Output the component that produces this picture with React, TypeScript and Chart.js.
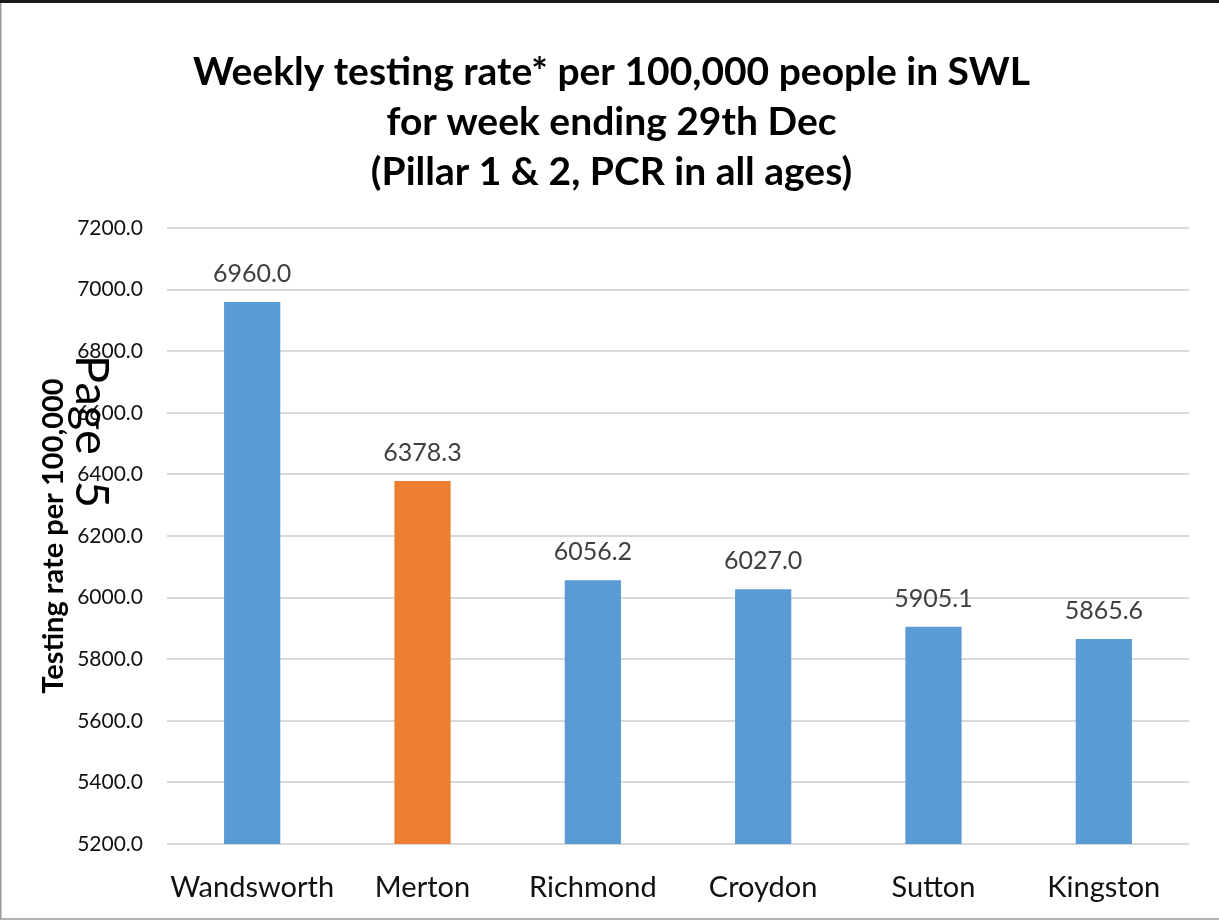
import React, { useEffect, useRef } from "react";
import { Chart, registerables } from "chart.js";

Chart.register(...registerables);

const categories = ["Wandsworth", "Merton", "Richmond", "Croydon", "Sutton", "Kingston"];
const rates = [6960.0, 6378.3, 6056.2, 6027.0, 5905.1, 5865.6];
const barColors = ["#5B9BD5", "#ED7D31", "#5B9BD5", "#5B9BD5", "#5B9BD5", "#5B9BD5"];
const titleLines = [
  "Weekly testing rate* per 100,000 people in SWL",
  "for week ending 29th Dec",
  "(Pillar 1 & 2, PCR in all ages)",
];
const yAxisTitle = "Testing rate per 100,000";
const overlayText = "Page 5";
const yMin = 5200;
const yMax = 7200;
const yStep = 200;

const FONT = "Lato, 'Noto Sans', sans-serif";

const decorPlugin = {
  id: "decor",
  afterDraw(chart: any) {
    const ctx = chart.ctx;
    const w = chart.width;
    const h = chart.height;
    ctx.save();
    // frame
    ctx.strokeStyle = "#9a9a9a";
    ctx.lineWidth = 1.5;
    ctx.beginPath();
    ctx.moveTo(0.75, 0);
    ctx.lineTo(0.75, h - 2);
    ctx.lineTo(w, h - 2);
    ctx.stroke();
    ctx.fillStyle = "#1a1a1a";
    ctx.fillRect(0, 0, w, 3);
    // title
    ctx.fillStyle = "#000";
    ctx.font = `bold 39px ${FONT}`;
    ctx.textAlign = "center";
    ctx.textBaseline = "middle";
    const ys = [72, 122, 172];
    titleLines.forEach((t, i) => ctx.fillText(t, w / 2 + 2, ys[i]));
    // data labels
    const meta = chart.getDatasetMeta(0);
    ctx.font = `25px ${FONT}`;
    ctx.fillStyle = "#404040";
    ctx.textBaseline = "middle";
    meta.data.forEach((bar: any, i: number) => {
      ctx.fillText(rates[i].toFixed(1), bar.x, bar.y - 28);
    });
    // overlay "Page 5"
    ctx.translate(76, 355);
    ctx.rotate(Math.PI / 2);
    ctx.font = `47px ${FONT}`;
    (ctx as any).wordSpacing = "14px";
    ctx.fillStyle = "#000";
    ctx.textAlign = "left";
    ctx.textBaseline = "alphabetic";
    ctx.fillText(overlayText, 0, 0);
    ctx.restore();
  },
};

export default function App() {
  const ref = useRef<HTMLCanvasElement | null>(null);
  useEffect(() => {
    document.body.style.margin = "0";
    const canvas = ref.current!;
    const chart = new Chart(canvas, {
      type: "bar",
      data: {
        labels: categories,
        datasets: [
          {
            data: rates,
            backgroundColor: barColors,
            borderWidth: 0,
            barPercentage: 0.33,
            categoryPercentage: 1,
          },
        ],
      },
      options: {
        animation: false,
        responsive: false,
        devicePixelRatio: 1,
        layout: { padding: { top: 228, right: 30, left: 0, bottom: 0 } },
        plugins: {
          legend: { display: false },
          tooltip: { enabled: false },
          title: { display: false },
        },
        scales: {
          x: {
            grid: { display: false, drawTicks: false },
            border: { display: false },
            ticks: {
              color: "#111",
              font: { family: FONT, size: 29 },
              padding: 26,
              maxRotation: 0,
            },
            afterFit(scale: any) {
              scale.height = 921 - 844;
            },
          },
          y: {
            min: yMin,
            max: yMax,
            grid: { color: "#d9d9d9", lineWidth: 2, drawTicks: false },
            border: { display: false },
            ticks: {
              stepSize: yStep,
              color: "#111",
              font: { family: FONT, size: 21 },
              padding: 24,
              callback: (v: any) => Number(v).toFixed(1),
            },
            title: {
              display: true,
              text: yAxisTitle,
              color: "#000",
              font: { family: FONT, size: 29, weight: "bold" },
              padding: { top: 36, bottom: 0 },
            },
            afterFit(scale: any) {
              scale.width = 167;
            },
          },
        },
      },
      plugins: [decorPlugin],
    });
    return () => chart.destroy();
  }, []);
  return <canvas ref={ref} width={1219} height={921} style={{ display: "block" }} />;
}
